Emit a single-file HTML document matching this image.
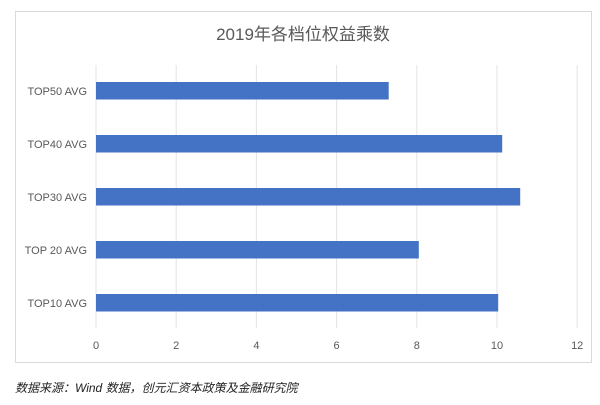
<!DOCTYPE html>
<html><head><meta charset="utf-8"><style>
body{margin:0;background:#fff;width:600px;height:405px;overflow:hidden;font-family:"Liberation Sans","Noto Sans CJK SC",sans-serif;}
</style></head><body>
<svg width="600" height="405" xmlns="http://www.w3.org/2000/svg" style="position:absolute;left:0;top:0">
<rect x="15.5" y="11.5" width="576" height="351" fill="#fff" stroke="#d9d9d9"/>
<text x="303" y="40" text-anchor="middle" font-size="17" fill="#595959" font-family="Liberation Sans, Noto Sans CJK SC, sans-serif">2019年各档位权益乘数</text>
<g stroke="#e3e3e3" stroke-width="1">
<line x1="96" y1="65" x2="96" y2="328"/>
<line x1="176.2" y1="65" x2="176.2" y2="328"/>
<line x1="256.4" y1="65" x2="256.4" y2="328"/>
<line x1="336.6" y1="65" x2="336.6" y2="328"/>
<line x1="416.8" y1="65" x2="416.8" y2="328"/>
<line x1="497" y1="65" x2="497" y2="328"/>
<line x1="577.2" y1="65" x2="577.2" y2="328"/>
</g>
<g fill="#4472c4">
<rect x="96" y="82" width="292.7" height="17.5"/>
<rect x="96" y="135" width="406.2" height="17.5"/>
<rect x="96" y="188" width="424.2" height="17.5"/>
<rect x="96" y="241" width="322.8" height="17.5"/>
<rect x="96" y="294" width="402.2" height="17.5"/>
</g>
<g font-size="11" fill="#595959" text-anchor="end">
<text x="87" y="95">TOP50 AVG</text>
<text x="87" y="148">TOP40 AVG</text>
<text x="87" y="201">TOP30 AVG</text>
<text x="87" y="254">TOP 20 AVG</text>
<text x="87" y="307">TOP10 AVG</text>
</g>
<g font-size="11" fill="#595959" text-anchor="middle">
<text x="96" y="349">0</text>
<text x="176.2" y="349">2</text>
<text x="256.4" y="349">4</text>
<text x="336.6" y="349">6</text>
<text x="416.8" y="349">8</text>
<text x="497" y="349">10</text>
<text x="577.2" y="349">12</text>
</g>
<text x="15" y="392" font-size="12" font-style="italic" fill="#222">数据来源：Wind 数据，创元汇资本政策及金融研究院</text>
</svg>
</body></html>
